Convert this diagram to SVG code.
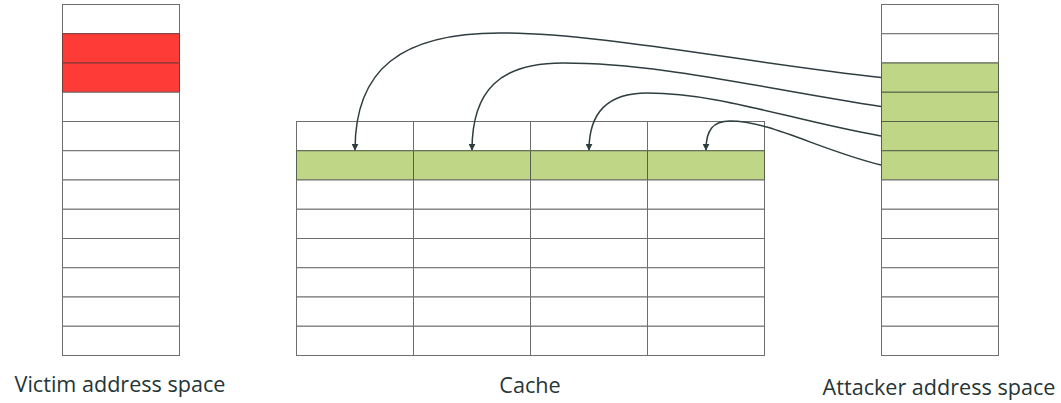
<svg xmlns="http://www.w3.org/2000/svg" width="1061" height="403" viewBox="0 0 1061 403">
  <style>
    .cell { fill: #ffffff; stroke: #6e6e6e; stroke-width: 1; }
    .red { fill: #ff3b38; stroke: #7a3a38; }
    .green { fill: #bfd687; stroke: #55604a; }
    .label { font-family: "Open Sans", "Noto Sans", "DejaVu Sans", sans-serif; font-size: 21.6px; fill: #263536; text-anchor: middle; }
    .link { fill: none; stroke: #2f3d3f; stroke-width: 1.5; marker-end: url(#arrow); }
  </style>
  <defs>
    <marker id="arrow" viewBox="0 0 10 10" refX="9" refY="5" markerWidth="7" markerHeight="7" markerUnits="userSpaceOnUse" orient="auto">
      <path d="M0,0 L10,5 L0,10 Z" fill="#2f3d3f"/>
    </marker>
  </defs>

  <!-- victim address space: 12 rows, rows 2-3 highlighted -->
  <g id="victim">
    <rect class="cell" x="62.5" y="4.5" width="117" height="29.25"/>
    <rect class="cell red" x="62.5" y="33.75" width="117" height="29.25"/>
    <rect class="cell red" x="62.5" y="63" width="117" height="29.25"/>
    <rect class="cell" x="62.5" y="92.25" width="117" height="29.25"/>
    <rect class="cell" x="62.5" y="121.5" width="117" height="29.25"/>
    <rect class="cell" x="62.5" y="150.75" width="117" height="29.25"/>
    <rect class="cell" x="62.5" y="180" width="117" height="29.25"/>
    <rect class="cell" x="62.5" y="209.25" width="117" height="29.25"/>
    <rect class="cell" x="62.5" y="238.5" width="117" height="29.25"/>
    <rect class="cell" x="62.5" y="267.75" width="117" height="29.25"/>
    <rect class="cell" x="62.5" y="297" width="117" height="29.25"/>
    <rect class="cell" x="62.5" y="326.25" width="117" height="29.25"/>
    <text class="label" x="120" y="391.5">Victim address space</text>
  </g>

  <!-- cache: 4 ways x 8 sets, set 2 highlighted -->
  <g id="cache">
    <g id="cache-way-1">
      <rect class="cell" x="296.5" y="121.5" width="117" height="29.25"/>
      <rect class="cell green" x="296.5" y="150.75" width="117" height="29.25"/>
      <rect class="cell" x="296.5" y="180" width="117" height="29.25"/>
      <rect class="cell" x="296.5" y="209.25" width="117" height="29.25"/>
      <rect class="cell" x="296.5" y="238.5" width="117" height="29.25"/>
      <rect class="cell" x="296.5" y="267.75" width="117" height="29.25"/>
      <rect class="cell" x="296.5" y="297" width="117" height="29.25"/>
      <rect class="cell" x="296.5" y="326.25" width="117" height="29.25"/>
    </g>
    <g id="cache-way-2">
      <rect class="cell" x="413.5" y="121.5" width="117" height="29.25"/>
      <rect class="cell green" x="413.5" y="150.75" width="117" height="29.25"/>
      <rect class="cell" x="413.5" y="180" width="117" height="29.25"/>
      <rect class="cell" x="413.5" y="209.25" width="117" height="29.25"/>
      <rect class="cell" x="413.5" y="238.5" width="117" height="29.25"/>
      <rect class="cell" x="413.5" y="267.75" width="117" height="29.25"/>
      <rect class="cell" x="413.5" y="297" width="117" height="29.25"/>
      <rect class="cell" x="413.5" y="326.25" width="117" height="29.25"/>
    </g>
    <g id="cache-way-3">
      <rect class="cell" x="530.5" y="121.5" width="117" height="29.25"/>
      <rect class="cell green" x="530.5" y="150.75" width="117" height="29.25"/>
      <rect class="cell" x="530.5" y="180" width="117" height="29.25"/>
      <rect class="cell" x="530.5" y="209.25" width="117" height="29.25"/>
      <rect class="cell" x="530.5" y="238.5" width="117" height="29.25"/>
      <rect class="cell" x="530.5" y="267.75" width="117" height="29.25"/>
      <rect class="cell" x="530.5" y="297" width="117" height="29.25"/>
      <rect class="cell" x="530.5" y="326.25" width="117" height="29.25"/>
    </g>
    <g id="cache-way-4">
      <rect class="cell" x="647.5" y="121.5" width="117" height="29.25"/>
      <rect class="cell green" x="647.5" y="150.75" width="117" height="29.25"/>
      <rect class="cell" x="647.5" y="180" width="117" height="29.25"/>
      <rect class="cell" x="647.5" y="209.25" width="117" height="29.25"/>
      <rect class="cell" x="647.5" y="238.5" width="117" height="29.25"/>
      <rect class="cell" x="647.5" y="267.75" width="117" height="29.25"/>
      <rect class="cell" x="647.5" y="297" width="117" height="29.25"/>
      <rect class="cell" x="647.5" y="326.25" width="117" height="29.25"/>
    </g>
    <text class="label" x="530" y="392.5">Cache</text>
  </g>

  <!-- attacker address space: 12 rows, rows 3-6 highlighted -->
  <g id="attacker">
    <rect class="cell" x="881.5" y="4.5" width="117" height="29.25"/>
    <rect class="cell" x="881.5" y="33.75" width="117" height="29.25"/>
    <rect class="cell green" x="881.5" y="63" width="117" height="29.25"/>
    <rect class="cell green" x="881.5" y="92.25" width="117" height="29.25"/>
    <rect class="cell green" x="881.5" y="121.5" width="117" height="29.25"/>
    <rect class="cell green" x="881.5" y="150.75" width="117" height="29.25"/>
    <rect class="cell" x="881.5" y="180" width="117" height="29.25"/>
    <rect class="cell" x="881.5" y="209.25" width="117" height="29.25"/>
    <rect class="cell" x="881.5" y="238.5" width="117" height="29.25"/>
    <rect class="cell" x="881.5" y="267.75" width="117" height="29.25"/>
    <rect class="cell" x="881.5" y="297" width="117" height="29.25"/>
    <rect class="cell" x="881.5" y="326.25" width="117" height="29.25"/>
    <text class="label" x="939" y="395">Attacker address space</text>
  </g>

  <!-- each attacker line maps into a different way of the same cache set -->
  <g id="connectors">
    <path class="link" d="M881,77.5 C 740,62 600,33 500,33 C 400,33 355,70 355,150"/>
    <path class="link" d="M881,106.5 C 760,88 660,63 563,63 C 500,63 472,90 472,150"/>
    <path class="link" d="M881,136 C 790,120 720,93 647,93 C 605,93 589,115 589,150"/>
    <path class="link" d="M881,165 C 820,150 770,121 730,121 C 713,121 706,130 706,150"/>
  </g>
</svg>
